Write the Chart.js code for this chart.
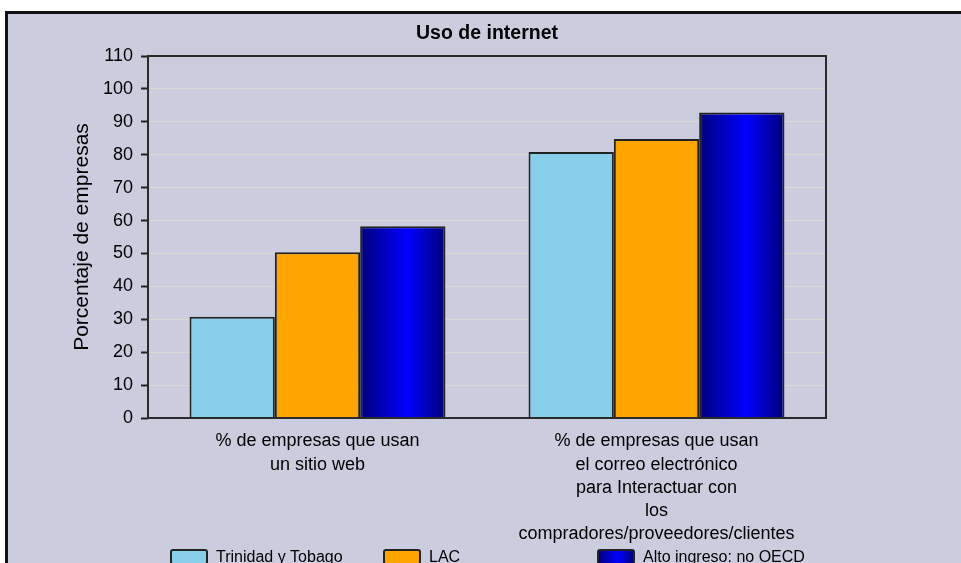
<!DOCTYPE html>
<html>
<head>
<meta charset="utf-8">
<script src="https://cdn.jsdelivr.net/npm/chart.js@4.4.0/dist/chart.umd.min.js"></script>
<style>
    html, body { margin: 0; padding: 0; background: #fff; overflow: hidden; width: 961px; height: 563px; }
    #panel { position: absolute; left: 5px; top: 11px; width: 1000px; height: 600px; background: #cbccde; border-top: 3px solid #111; border-left: 3px solid #111; }
    #grafico { position: absolute; left: 0; top: 0; }
</style>
</head>
<body>
<div id="panel"><canvas id="grafico" width="957" height="560"></canvas></div>
<script>
const categorias = [
    ['% de empresas que usan', 'un sitio web'],
    ['% de empresas que usan', 'el correo electrónico', 'para Interactuar con', 'los', 'compradores/proveedores/clientes']
];
const series = ['Trinidad y Tobago', 'LAC', 'Alto ingreso: no OECD'];
const trinidad = [30.8, 80.8];
const lac = [50.4, 84.8];
const altoIngreso = [58.3, 92.8];
const ticksY = [0, 10, 20, 30, 40, 50, 60, 70, 80, 90, 100, 110];

const porcentajeCategoria = 0.755;
const posLeyenda = [163, 376, 590];
const fuente = "'Liberation Sans', Arial, sans-serif";

function degradado(ctx, x0, x1) {
    const g = ctx.createLinearGradient(x0, 0, x1, 0);
    g.addColorStop(0, '#00007a');
    g.addColorStop(0.55, '#0000ff');
    g.addColorStop(1, '#00007a');
    return g;
}

// degradado horizontal de cada barra azul, calculado desde la escala x
function azulBarra(context) {
    const chart = context.chart;
    const escalaX = chart.scales.x;
    if (!chart.chartArea || !escalaX || context.dataIndex === undefined) return '#0000c8';
    const ancho = escalaX.width / categorias.length * porcentajeCategoria / series.length;
    const centro = escalaX.getPixelForValue(context.dataIndex) + (context.datasetIndex - (series.length - 1) / 2) * ancho;
    return degradado(chart.ctx, centro - ancho / 2, centro + ancho / 2);
}

const marco = {
    id: 'marco',
    afterDatasetsDraw(chart) {
        const { ctx, chartArea: a } = chart;
        ctx.save();
        ctx.strokeStyle = '#2a2a2a';
        ctx.lineWidth = 2;
        ctx.strokeRect(a.left, a.top, a.right - a.left, a.bottom - a.top);
        ctx.restore();
    }
};

const leyenda = {
    id: 'leyenda',
    afterDraw(chart) {
        const ctx = chart.ctx;
        const y = 536;
        chart.data.datasets.forEach((ds, i) => {
            const x = posLeyenda[i];
            ctx.save();
            ctx.fillStyle = typeof ds.backgroundColor === 'function' ? degradado(ctx, x, x + 36) : ds.backgroundColor;
            ctx.strokeStyle = '#222';
            ctx.lineWidth = 2;
            ctx.beginPath();
            ctx.roundRect(x, y, 36, 14, 2);
            ctx.fill();
            ctx.stroke();
            ctx.fillStyle = '#000';
            ctx.font = '16px ' + fuente;
            ctx.textBaseline = 'top';
            ctx.fillText(ds.label, x + 45, y);
            ctx.restore();
        });
    }
};

new Chart(document.getElementById('grafico'), {
    type: 'bar',
    data: {
        labels: categorias,
        datasets: [
            { label: series[0], data: trinidad, backgroundColor: '#87ceeb' },
            { label: series[1], data: lac, backgroundColor: '#ffa500' },
            { label: series[2], data: altoIngreso, backgroundColor: azulBarra }
        ]
    },
    options: {
        responsive: false,
        animation: false,
        devicePixelRatio: 1,
        datasets: {
            bar: {
                categoryPercentage: porcentajeCategoria,
                barPercentage: 1,
                borderColor: '#222',
                borderWidth: 2,
                borderSkipped: 'bottom'
            }
        },
        layout: { padding: { left: 62, right: 139, top: 0, bottom: 6 } },
        plugins: {
            legend: { display: false },
            tooltip: { enabled: false },
            title: {
                display: true,
                fullSize: false,
                text: 'Uso de internet',
                color: '#000',
                font: { family: fuente, size: 19.5, weight: 'bold' },
                padding: { top: 8, bottom: 10.6 }
            }
        },
        scales: {
            x: {
                grid: { display: false },
                border: { display: false },
                ticks: {
                    color: '#000',
                    font: { family: fuente, size: 18, lineHeight: 1.28 },
                    padding: 4,
                    maxRotation: 0,
                    autoSkip: false
                },
                afterFit: s => { s.height = 150; }
            },
            y: {
                min: 0,
                max: 110,
                afterBuildTicks: s => { s.ticks = ticksY.map(v => ({ value: v })); },
                grid: { color: '#d9d9d0', tickColor: '#222', tickLength: 7, lineWidth: 1, tickWidth: 2 },
                border: { display: false },
                ticks: {
                    color: '#000',
                    font: { family: fuente, size: 18 },
                    padding: 8
                },
                title: {
                    display: true,
                    text: 'Porcentaje de empresas',
                    color: '#000',
                    font: { family: fuente, size: 21 },
                    padding: 0
                },
                afterFit: s => { s.width = 78; }
            }
        }
    },
    plugins: [marco, leyenda]
});
</script>
</body>
</html>
